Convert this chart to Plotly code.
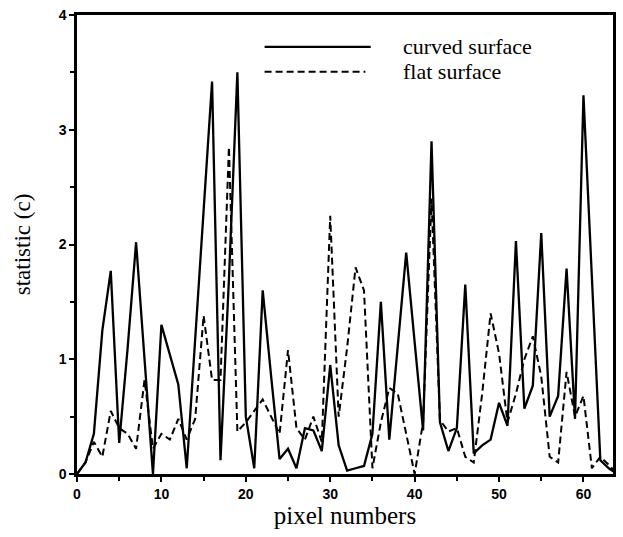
import plotly.graph_objects as go

pixel = list(range(65))
curved = [0, 0.1, 0.35, 1.25, 1.77, 0.27, 1.1, 2.02, 1.0, 0.0,
          1.3, 1.05, 0.78, 0.05, 1.15, 2.3, 3.42, 0.12, 1.7, 3.5,
          0.5, 0.05, 1.6, 0.85, 0.13, 0.22, 0.05, 0.4, 0.38, 0.2,
          0.95, 0.25, 0.03, 0.05, 0.07, 0.35, 1.5, 0.3, 1.1, 1.93,
          1.15, 0.38, 2.9, 0.45, 0.2, 0.4, 1.65, 0.18, 0.25, 0.3,
          0.62, 0.42, 2.03, 0.57, 0.77, 2.1, 0.5, 0.68, 1.79, 0.48,
          3.3, 1.7, 0.12, 0.05, 0]
flat = [0, 0.1, 0.28, 0.15, 0.55, 0.4, 0.35, 0.22, 0.82, 0.22,
        0.35, 0.3, 0.48, 0.3, 0.48, 1.38, 0.82, 0.82, 2.85, 0.37,
        0.45, 0.55, 0.65, 0.5, 0.35, 1.08, 0.4, 0.3, 0.5, 0.28,
        2.25, 0.5, 1.1, 1.8, 1.6, 0.05, 0.45, 0.75, 0.7, 0.35,
        0.0, 0.45, 2.4, 0.47, 0.37, 0.4, 0.15, 0.1, 0.7, 1.4,
        1.05, 0.45, 0.7, 1.0, 1.2, 0.85, 0.15, 0.1, 0.89, 0.5,
        0.68, 0.05, 0.15, 0.08, 0]
series_names = ["curved surface", "flat surface"]
x_ticks = [0, 10, 20, 30, 40, 50, 60]
y_ticks = [0, 1, 2, 3, 4]

fig = go.Figure()
fig.add_trace(go.Scatter(x=pixel, y=curved, mode="lines", name=series_names[0],
                         line=dict(color="black", width=2.3)))
fig.add_trace(go.Scatter(x=pixel, y=flat, mode="lines", name=series_names[1],
                         line=dict(color="black", width=2, dash="7px,4px")))

# hand-drawn style legend
leg_y = [0.9306, 0.8764]
fig.add_shape(type="line", xref="paper", yref="paper", x0=0.35, x1=0.548, y0=leg_y[0], y1=leg_y[0],
              line=dict(color="black", width=2.3))
fig.add_shape(type="line", xref="paper", yref="paper", x0=0.35, x1=0.538, y0=leg_y[1], y1=leg_y[1],
              line=dict(color="black", width=2, dash="7px,4px"))
for name, yy in zip(series_names, leg_y):
    fig.add_annotation(xref="paper", yref="paper", x=0.605, y=yy, text=name,
                       showarrow=False, xanchor="left", yanchor="middle",
                       font=dict(family="Liberation Serif", size=22, color="black"))

axis_common = dict(showgrid=False, zeroline=False, showline=True, linecolor="black",
                   linewidth=2.5, mirror=True, ticks="outside", tickcolor="black",
                   tickwidth=2, ticklen=5,
                   tickfont=dict(family="Liberation Sans", size=14, color="black", weight="bold"))

fig.update_xaxes(range=[0, 63.5], tickvals=x_ticks, ticktext=[str(v) for v in x_ticks],
                 minor=dict(dtick=5, ticks="outside", ticklen=4, tickcolor="black", tickwidth=2),
                 title=dict(text="pixel numbers", standoff=4,
                            font=dict(family="Liberation Serif", size=25, color="black")),
                 **axis_common)
fig.update_yaxes(range=[0, 4], tickvals=y_ticks, ticktext=[str(v) for v in y_ticks],
                 minor=dict(dtick=0.5, ticks="outside", ticklen=4, tickcolor="black", tickwidth=2),
                 title=dict(text="statistic (c)", standoff=22,
                            font=dict(family="Liberation Serif", size=23, color="black")),
                 **axis_common)

fig.update_layout(width=623, height=537, showlegend=False,
                  plot_bgcolor="white", paper_bgcolor="white",
                  margin=dict(l=77, r=7, t=13, b=63))

fig.write_html("out.html")
